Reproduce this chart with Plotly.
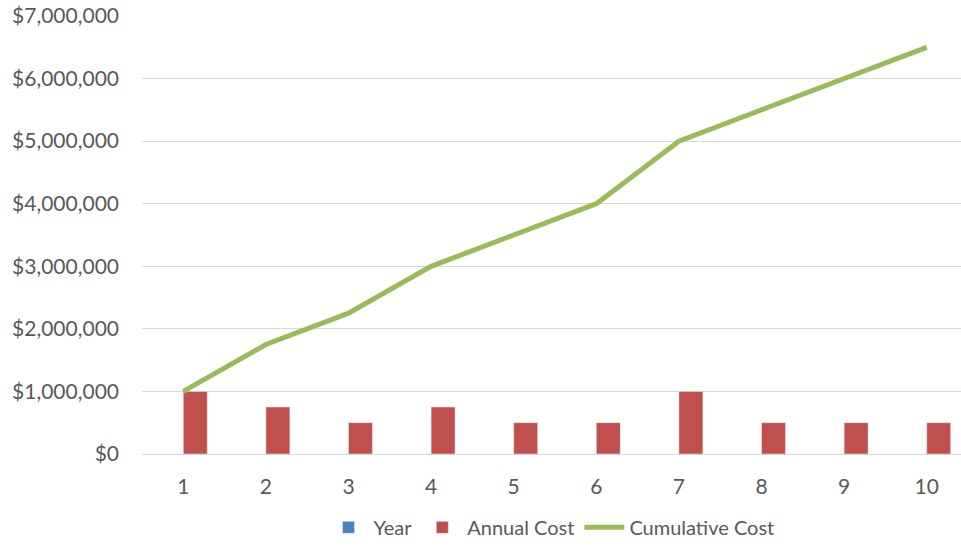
import plotly.graph_objects as go

years = [1, 2, 3, 4, 5, 6, 7, 8, 9, 10]
year_values = [1, 2, 3, 4, 5, 6, 7, 8, 9, 10]
annual_cost = [1000000, 750000, 500000, 750000, 500000, 500000, 1000000, 500000, 500000, 500000]
cumulative_cost = [1000000, 1750000, 2250000, 3000000, 3500000, 4000000, 5000000, 5500000, 6000000, 6500000]

FONT = "Lato, Open Sans, sans-serif"
GREY = "#595959"

fig = go.Figure()
fig.add_trace(go.Bar(x=years, y=year_values, name="Year", marker=dict(color="#4F81BD")))
fig.add_trace(go.Bar(x=years, y=annual_cost, name="Annual Cost", marker=dict(color="#C0504D")))
fig.add_trace(go.Scatter(x=years, y=cumulative_cost, name="Cumulative Cost", mode="lines",
                         line=dict(color="#9BBB59", width=5)))

fig.update_layout(
    width=961, height=550,
    margin=dict(l=142, r=0, t=16, b=96),
    plot_bgcolor="white", paper_bgcolor="white",
    barmode="group", bargap=0.42, bargroupgap=0,
    font=dict(family=FONT, size=21, color=GREY),
    showlegend=True,
    legend=dict(orientation="h", x=0.5, xanchor="center", y=-0.212, yanchor="bottom",
                font=dict(size=20, color=GREY), traceorder="normal",
                itemwidth=40),
    xaxis=dict(range=[0.5, 10.415], tickmode="array", tickvals=years,
               ticktext=[str(y) for y in years], showgrid=False, showline=False,
               zeroline=False, ticks="", ticklabelstandoff=18),
    yaxis=dict(range=[0, 7000000], dtick=1000000, tickprefix="$", tickformat=",d",
               showgrid=True, gridcolor="#D9D9D9", gridwidth=1, zeroline=True,
               zerolinecolor="#D9D9D9", zerolinewidth=1, showline=False,
               ticks="", ticklabelstandoff=22),
)

fig.write_html("out.html")
